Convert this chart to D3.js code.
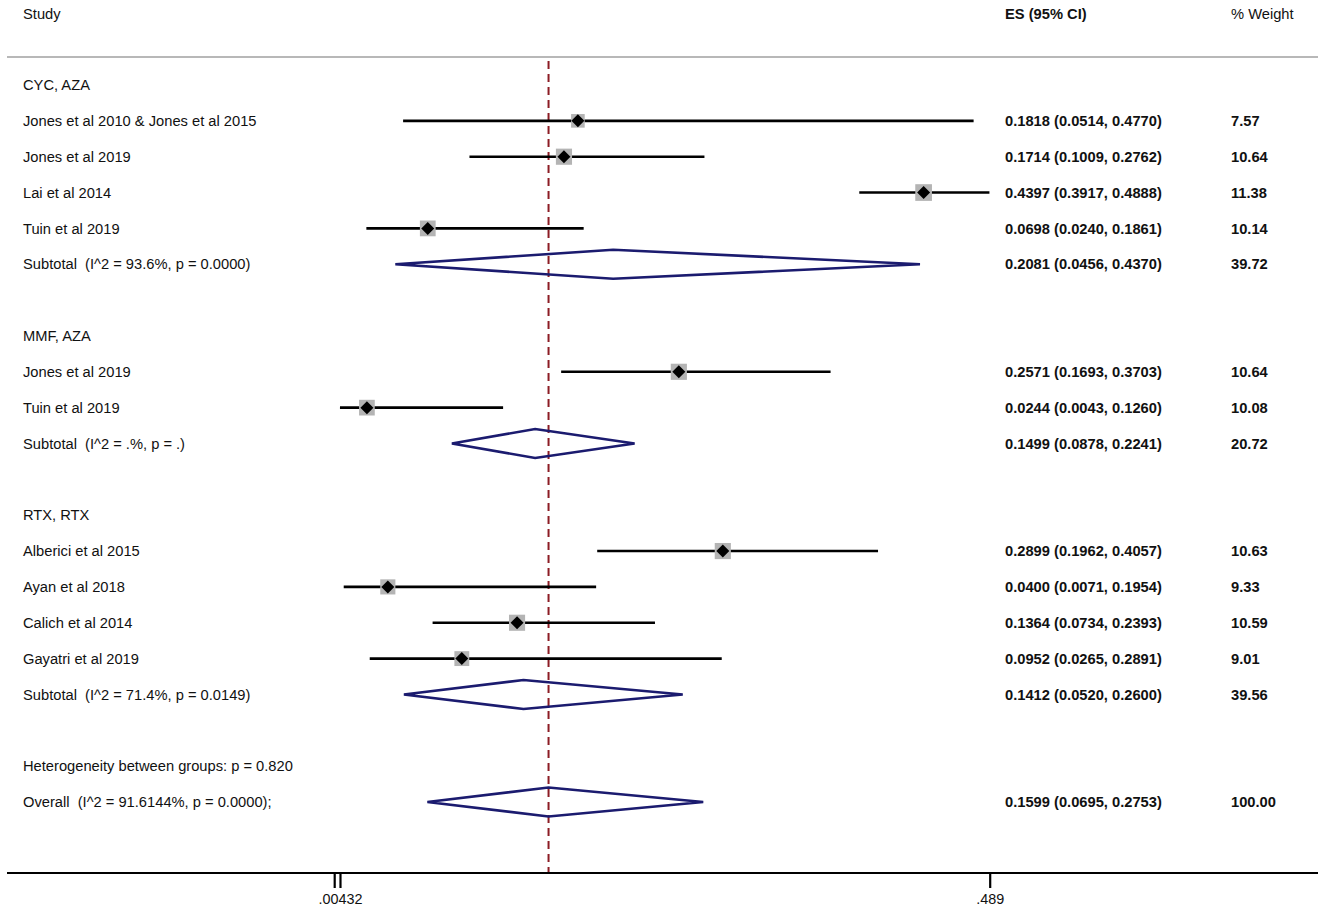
<!DOCTYPE html>
<html>
<head>
<meta charset="utf-8">
<script src="https://cdn.jsdelivr.net/npm/d3@7"></script>
<style>
  html, body { margin: 0; padding: 0; background: #fff; }
  svg text { font-family: "Liberation Sans", Arial, Helvetica, sans-serif; white-space: pre; }
</style>
</head>
<body>
<svg id="chart" width="1325" height="916"></svg>
<script>
// ---- Data ----
const rowLabels = [
  "CYC, AZA",
  "Jones et al 2010 & Jones et al 2015",
  "Jones et al 2019",
  "Lai et al 2014",
  "Tuin et al 2019",
  "Subtotal  (I^2 = 93.6%, p = 0.0000)",
  "",
  "MMF, AZA",
  "Jones et al 2019",
  "Tuin et al 2019",
  "Subtotal  (I^2 = .%, p = .)",
  "",
  "RTX, RTX",
  "Alberici et al 2015",
  "Ayan et al 2018",
  "Calich et al 2014",
  "Gayatri et al 2019",
  "Subtotal  (I^2 = 71.4%, p = 0.0149)",
  "",
  "Heterogeneity between groups: p = 0.820",
  "Overall  (I^2 = 91.6144%, p = 0.0000);"
];
const rowTypes = [
  "group","study","study","study","study","subtotal","blank",
  "group","study","study","subtotal","blank",
  "group","study","study","study","study","subtotal","blank",
  "note","overall"
];
const esValues = [null,0.1818,0.1714,0.4397,0.0698,0.2081,null,
  null,0.2571,0.0244,0.1499,null,
  null,0.2899,0.0400,0.1364,0.0952,0.1412,null,
  null,0.1599];
const ciLow = [null,0.0514,0.1009,0.3917,0.0240,0.0456,null,
  null,0.1693,0.0043,0.0878,null,
  null,0.1962,0.0071,0.0734,0.0265,0.0520,null,
  null,0.0695];
const ciHigh = [null,0.4770,0.2762,0.4888,0.1861,0.4370,null,
  null,0.3703,0.1260,0.2241,null,
  null,0.4057,0.1954,0.2393,0.2891,0.2600,null,
  null,0.2753];
const weights = [null,7.57,10.64,11.38,10.14,39.72,null,
  null,10.64,10.08,20.72,null,
  null,10.63,9.33,10.59,9.01,39.56,null,
  null,100.00];
const tickValues = [0, 0.00432, 0.489];
const tickLabels = ["", ".00432", ".489"];
const headers = { study: "Study", es: "ES (95% CI)", weight: "% Weight" };

// ---- Layout ----
const svg = d3.select("#chart");
const W = 1325;
const fs = 14.7;
const x = d3.scaleLinear().domain([0, 0.489]).range([334.2, 989.7]);
const y = d3.scaleLinear().domain([0, rowLabels.length - 1]).range([85, 802]);
const axisY = 873;
const topLineY = 57;
const colStudy = 23, colES = 1005, colW = 1231;

const rows = rowLabels.map((label, i) => ({
  label, type: rowTypes[i], es: esValues[i], lo: ciLow[i], hi: ciHigh[i], w: weights[i], i
}));

// header
svg.append("text").attr("x", colStudy).attr("y", 14).attr("dy", "0.35em")
  .attr("font-size", fs).attr("fill", "#111").text(headers.study);
svg.append("text").attr("x", colES).attr("y", 14).attr("dy", "0.35em")
  .attr("font-size", fs).attr("font-weight", "bold").attr("fill", "#111").text(headers.es);
svg.append("text").attr("x", colW).attr("y", 14).attr("dy", "0.35em")
  .attr("font-size", fs).attr("fill", "#111").text(headers.weight);

// top separator
svg.append("line").attr("x1", 7).attr("x2", 1318).attr("y1", topLineY).attr("y2", topLineY)
  .attr("stroke", "#b8b8b8").attr("stroke-width", 2);

// overall dashed line
const overall = rows.find(r => r.type === "overall");
svg.append("line")
  .attr("x1", x(overall.es)).attr("x2", x(overall.es))
  .attr("y1", topLineY + 4).attr("y2", axisY)
  .attr("stroke", "#8c1c24").attr("stroke-width", 2)
  .attr("stroke-dasharray", "8,5");

// study rows
const studies = rows.filter(r => r.type === "study");
const sg = svg.append("g");
sg.selectAll("line.ci").data(studies).join("line").attr("class", "ci")
  .attr("x1", d => x(d.lo)).attr("x2", d => x(d.hi))
  .attr("y1", d => y(d.i)).attr("y2", d => y(d.i))
  .attr("stroke", "#000").attr("stroke-width", 2.6);
const k = 4.95;
sg.selectAll("rect.wt").data(studies).join("rect").attr("class", "wt")
  .attr("x", d => x(d.es) - k * Math.sqrt(d.w) / 2)
  .attr("y", d => y(d.i) - k * Math.sqrt(d.w) / 2)
  .attr("width", d => k * Math.sqrt(d.w))
  .attr("height", d => k * Math.sqrt(d.w))
  .attr("fill", "#b4b4b4");
const ms = 6.5;
sg.selectAll("path.pt").data(studies).join("path").attr("class", "pt")
  .attr("transform", d => `translate(${x(d.es)},${y(d.i)})`)
  .attr("d", `M0,${-ms}L${ms},0L0,${ms}L${-ms},0Z`)
  .attr("fill", "#000");

// pooled diamonds
const pooled = rows.filter(r => r.type === "subtotal" || r.type === "overall");
const dh = 14.5;
svg.append("g").selectAll("path").data(pooled).join("path")
  .attr("d", d => {
    const cy = y(d.i);
    return `M${x(d.lo)},${cy}L${x(d.es)},${cy - dh}L${x(d.hi)},${cy}L${x(d.es)},${cy + dh}Z`;
  })
  .attr("fill", "none").attr("stroke", "#1b1b6f").attr("stroke-width", 2.6)
  .attr("stroke-linejoin", "miter");

// labels
const fmt4 = d3.format(".4f"), fmt2 = d3.format(".2f");
const tg = svg.append("g");
tg.selectAll("text.lab").data(rows.filter(r => r.label)).join("text").attr("class", "lab")
  .attr("x", colStudy).attr("y", d => y(d.i)).attr("dy", "0.35em")
  .attr("font-size", fs).attr("fill", "#111").text(d => d.label);
const withEs = rows.filter(r => r.es != null);
tg.selectAll("text.es").data(withEs).join("text").attr("class", "es")
  .attr("x", colES).attr("y", d => y(d.i)).attr("dy", "0.35em")
  .attr("font-size", fs).attr("font-weight", "bold").attr("fill", "#111")
  .text(d => `${fmt4(d.es)} (${fmt4(d.lo)}, ${fmt4(d.hi)})`);
tg.selectAll("text.w").data(withEs).join("text").attr("class", "w")
  .attr("x", colW).attr("y", d => y(d.i)).attr("dy", "0.35em")
  .attr("font-size", fs).attr("font-weight", "bold").attr("fill", "#111")
  .text(d => fmt2(d.w));

// axis
svg.append("line").attr("x1", 7).attr("x2", 1318).attr("y1", axisY).attr("y2", axisY)
  .attr("stroke", "#000").attr("stroke-width", 2);
const axis = d3.axisBottom(x).tickValues(tickValues)
  .tickFormat((d, i) => tickLabels[i]).tickSize(15).tickPadding(6);
const ag = svg.append("g").attr("transform", `translate(0,${axisY})`).call(axis);
ag.select(".domain").remove();
ag.selectAll(".tick line").attr("stroke", "#000").attr("stroke-width", 2.2);
ag.selectAll(".tick text").attr("font-size", 14.4).attr("fill", "#111")
  .attr("font-family", "'Liberation Sans', Arial, sans-serif");
</script>
</body>
</html>
